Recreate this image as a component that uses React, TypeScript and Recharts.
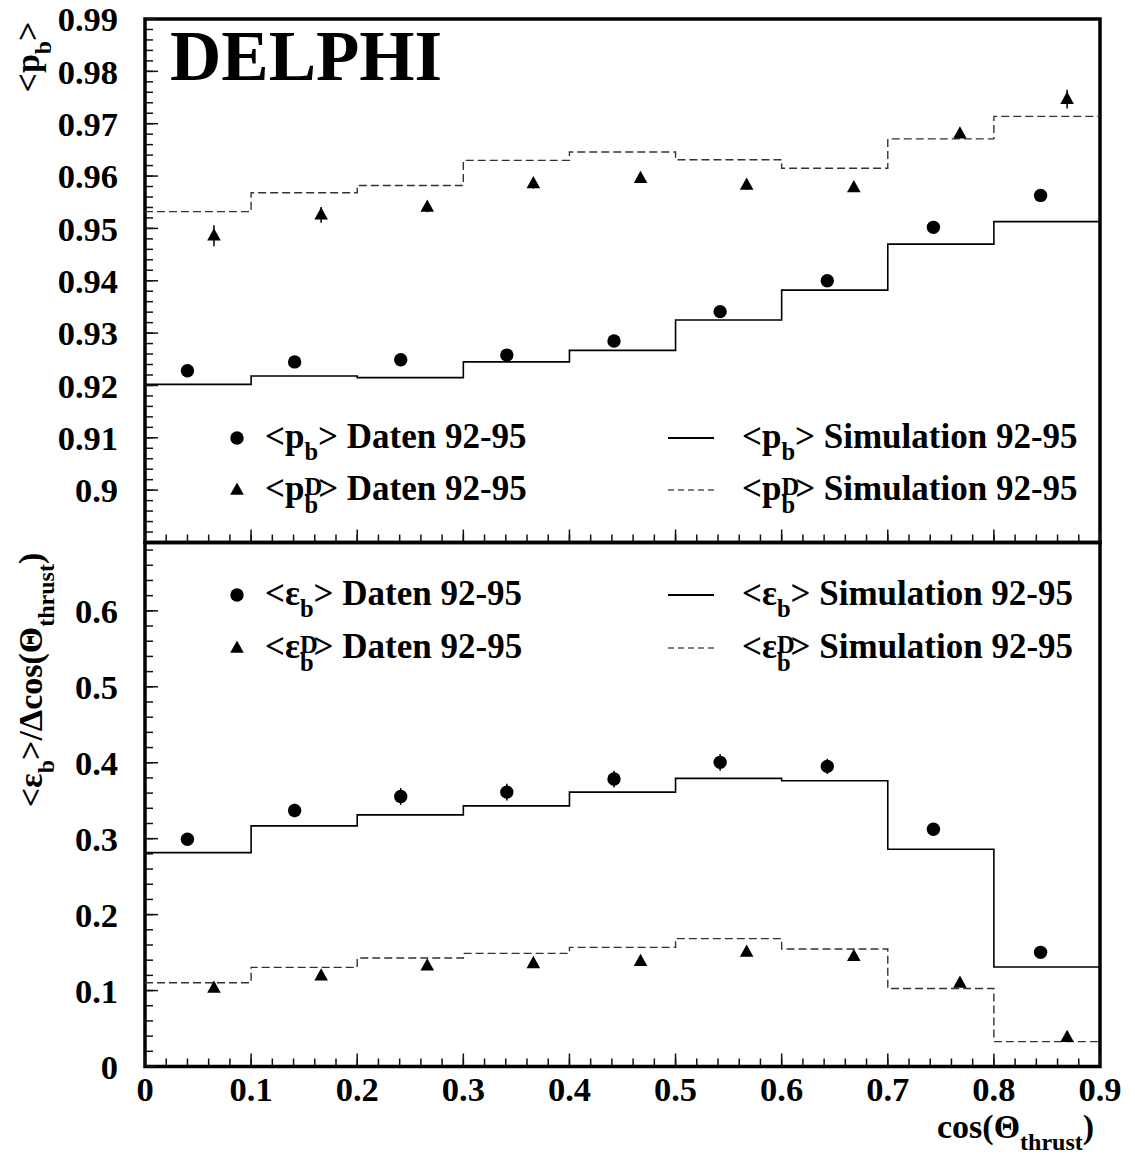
import React from "react";
import {
  ComposedChart,
  Line,
  Scatter,
  XAxis,
  YAxis,
  ReferenceArea,
  ErrorBar,
  Legend,
  Label,
} from "recharts";

const FONT = "'Liberation Serif', 'Times New Roman', Times, serif";

// bin edges of the cos(theta_thrust) histogram and axis tick labels
const binEdges = [0, 0.1, 0.2, 0.3, 0.4, 0.5, 0.6, 0.7, 0.8, 0.9];
const xTicks = [0, 0.1, 0.2, 0.3, 0.4, 0.5, 0.6, 0.7, 0.8, 0.9];
const yTicksTop = [0.9, 0.91, 0.92, 0.93, 0.94, 0.95, 0.96, 0.97, 0.98, 0.99];
const yTicksBottom = [0, 0.1, 0.2, 0.3, 0.4, 0.5, 0.6];

// positions of the data markers inside each bin
const circleX = [0.04, 0.141, 0.241, 0.341, 0.442, 0.542, 0.643, 0.743, 0.844];
const triangleX = [0.065, 0.166, 0.266, 0.366, 0.467, 0.567, 0.668, 0.768, 0.869];

// top panel: <p_b>
const pbSim = [0.9202, 0.9218, 0.9215, 0.9245, 0.9267, 0.9325, 0.9382, 0.947, 0.9513];
const pbDSim = [0.9532, 0.9568, 0.9582, 0.963, 0.9646, 0.9631, 0.9615, 0.9671, 0.9714];
const pbData = [0.9228, 0.9245, 0.9249, 0.9258, 0.9285, 0.9341, 0.94, 0.9502, 0.9563];
const pbDataErr = [0.0006, 0.0006, 0.0006, 0.0006, 0.0006, 0.0006, 0.0006, 0.0006, 0.0007];
const pbDData = [0.9486, 0.9526, 0.9541, 0.9586, 0.9596, 0.9583, 0.9578, 0.9681, 0.9747];
const pbDDataErr = [0.002, 0.0015, 0.001, 0.001, 0.0009, 0.0009, 0.0008, 0.0009, 0.0018];

// bottom panel: <eps_b>/dcos
const ebSim = [0.2816, 0.3168, 0.3313, 0.3432, 0.3613, 0.3794, 0.3763, 0.286, 0.131];
const ebDSim = [0.1103, 0.1305, 0.1429, 0.149, 0.1569, 0.1684, 0.1548, 0.1028, 0.0328];
const ebData = [0.2992, 0.3371, 0.3556, 0.3613, 0.3785, 0.4005, 0.3952, 0.3124, 0.1503];
const ebDataErr = [0.008, 0.009, 0.011, 0.011, 0.011, 0.011, 0.01, 0.008, 0.007];
const ebDData = [0.1033, 0.1196, 0.1328, 0.1358, 0.1385, 0.1509, 0.1451, 0.1099, 0.0386];
const ebDDataErr = [0.004, 0.004, 0.004, 0.004, 0.004, 0.004, 0.004, 0.004, 0.003];

const minor = (lo: number, hi: number, step: number) => {
  const out: number[] = [];
  for (let i = 0; lo + i * step <= hi + 1e-9; i++) out.push(+(lo + i * step).toFixed(4));
  return out;
};
const xMinor = minor(0, 0.9, 0.02);
const yMinorTop = minor(0.89, 0.99, 0.002);
const yMinorBottom = minor(0, 0.69, 0.02);

const hist = (vals: number[]) =>
  binEdges.map((x, i) => ({ x, y: vals[Math.min(i, vals.length - 1)] }));
const points = (xs: number[], ys: number[], es: number[]) =>
  xs.map((x, i) => ({ x, y: ys[i], e: es[i] }));

const Dot = (p: any) => <circle cx={p.cx} cy={p.cy} r={6.7} fill="#000" />;
const Tri = (p: any) => (
  <polygon
    points={`${p.cx},${p.cy - 7.5} ${p.cx - 6.8},${p.cy + 4.8} ${p.cx + 6.8},${p.cy + 4.8}`}
    fill="#000"
  />
);
const NoLabel = () => <g />;

// "<sym_b^sup>rest" as svg text
function QText({ x, y, sym, sup, rest, size = 35, rotate, anchor }: any) {
  const small = size * 0.7;
  return (
    <text
      x={x}
      y={y}
      fontSize={size}
      fontWeight="bold"
      fontFamily={FONT}
      fill="#000"
      textAnchor={anchor || "start"}
      transform={rotate ? `rotate(-90 ${x} ${y})` : undefined}
    >
      {"<" + sym}
      {sup ? (
        <>
          <tspan dy={-size * 0.14} fontSize={small}>{sup}</tspan>
          <tspan dx={-small * 0.72} dy={size * 0.52} fontSize={small}>b</tspan>
          <tspan dy={-size * 0.38}>{">" + rest}</tspan>
        </>
      ) : (
        <>
          <tspan dy={size * 0.34} fontSize={small}>b</tspan>
          <tspan dy={-size * 0.34}>{">" + rest}</tspan>
        </>
      )}
    </text>
  );
}

const topLegend = [
  { marker: "circle", sym: "p", sup: "", label: " Daten 92-95" },
  { marker: "triangle", sym: "p", sup: "D", label: " Daten 92-95" },
];
const topLegendSim = [
  { dash: "", sym: "p", sup: "", label: " Simulation 92-95" },
  { dash: "6 4", sym: "p", sup: "D", label: " Simulation 92-95" },
];
const bottomLegend = [
  { marker: "circle", sym: "ε", sup: "", label: " Daten 92-95" },
  { marker: "triangle", sym: "ε", sup: "D", label: " Daten 92-95" },
];
const bottomLegendSim = [
  { dash: "", sym: "ε", sup: "", label: " Simulation 92-95" },
  { dash: "6 4", sym: "ε", sup: "D", label: " Simulation 92-95" },
];

function LegendBlock({ rows, sims, y0, gap, height, title }: any) {
  return (
    <svg width={1135} height={height} style={{ display: "block", overflow: "visible" }}>
      {title && (
        <text x={170} y={80} fontSize={71} fontWeight="bold" fontFamily={FONT} fill="#000">
          {title}
        </text>
      )}
      {rows.map((r: any, i: number) => {
        const cy = y0 + i * gap;
        return (
          <g key={"d" + i}>
            {r.marker === "circle" ? <Dot cx={237} cy={cy} /> : <Tri cx={237} cy={cy} />}
            <QText x={265} y={cy + 10} sym={r.sym} sup={r.sup} rest={r.label} />
          </g>
        );
      })}
      {sims.map((r: any, i: number) => {
        const cy = y0 + i * gap;
        return (
          <g key={"s" + i}>
            <line
              x1={668}
              x2={714}
              y1={cy}
              y2={cy}
              stroke="#000"
              strokeWidth={r.dash ? 1.2 : 2}
              strokeDasharray={r.dash || undefined}
            />
            <QText x={742} y={cy + 10} sym={r.sym} sup={r.sup} rest={r.label} />
          </g>
        );
      })}
    </svg>
  );
}

const tickStyle = { fill: "#000", fontSize: 34.5, fontWeight: "bold", fontFamily: FONT };
const tickLineStyle = { stroke: "#111", strokeWidth: 1.5 };
const fmt = (v: number) => String(Number(v.toFixed(2)));

// inward pointing major/minor ticks on the left and bottom frame edges
function InnerAxes({ domain, majors, minors }: any) {
  return [
    <XAxis key="xm" xAxisId="maj" type="number" dataKey="x" domain={[0, 0.9]} allowDataOverflow height={1}
      ticks={xTicks} interval={0} mirror tickSize={13} tick={NoLabel} axisLine={false} tickLine={tickLineStyle} />,
    <XAxis key="xn" xAxisId="min" type="number" dataKey="x" domain={[0, 0.9]} allowDataOverflow height={1}
      ticks={xMinor} interval={0} mirror tickSize={7} tick={NoLabel} axisLine={false} tickLine={tickLineStyle} />,
    <YAxis key="ym" yAxisId="maj" type="number" domain={domain} allowDataOverflow width={1}
      ticks={majors} interval={0} mirror tickSize={13} tick={NoLabel} axisLine={false} tickLine={tickLineStyle} />,
    <YAxis key="yn" yAxisId="min" type="number" domain={domain} allowDataOverflow width={1}
      ticks={minors} interval={0} mirror tickSize={7} tick={NoLabel} axisLine={false} tickLine={tickLineStyle} />,
  ];
}

function TopPanel() {
  const domain = [0.89, 0.99];
  return (
    <ComposedChart width={1135} height={545} margin={{ top: 19, right: 35, bottom: 2.5, left: 0 }}>
      <YAxis yAxisId="lab" type="number" domain={domain} allowDataOverflow ticks={yTicksTop} interval={0}
        width={145} tickSize={0} tickMargin={27} tickLine={false} axisLine={false} tick={tickStyle}
        tickFormatter={fmt}>
        <Label content={() => <QText x={39} y={57} sym="p" rest="" size={34} rotate anchor="middle" />} />
      </YAxis>
      {InnerAxes({ domain, majors: [0.89, ...yTicksTop], minors: yMinorTop })}
      <Line xAxisId="maj" yAxisId="maj" data={hist(pbSim)} dataKey="y" type="stepAfter" stroke="#000"
        strokeWidth={1.6} dot={false} activeDot={false} isAnimationActive={false} />
      <Line xAxisId="maj" yAxisId="maj" data={hist(pbDSim)} dataKey="y" type="stepAfter" stroke="#333"
        strokeWidth={1.4} strokeDasharray="8 4" dot={false} activeDot={false} isAnimationActive={false} />
      <Scatter xAxisId="maj" yAxisId="maj" data={points(circleX, pbData, pbDataErr)} dataKey="y" shape={Dot}
        isAnimationActive={false}>
        <ErrorBar dataKey="e" direction="y" width={0} stroke="#000" strokeWidth={1.5} />
      </Scatter>
      <Scatter xAxisId="maj" yAxisId="maj" data={points(triangleX, pbDData, pbDDataErr)} dataKey="y" shape={Tri}
        isAnimationActive={false}>
        <ErrorBar dataKey="e" direction="y" width={0} stroke="#000" strokeWidth={1.5} />
      </Scatter>
      <ReferenceArea xAxisId="maj" yAxisId="maj" x1={0} x2={0.9} y1={0.89} y2={0.99} fill="none"
        fillOpacity={0} stroke="#000" strokeWidth={3.5} ifOverflow="visible" />
      <Legend layout="horizontal" verticalAlign="middle" align="center"
        wrapperStyle={{ left: 0, top: 0, width: 1135, height: 545 }}
        content={() => (
          <LegendBlock rows={topLegend} sims={topLegendSim} y0={438} gap={52} height={545} title="DELPHI" />
        )} />
    </ComposedChart>
  );
}

function BottomPanel() {
  const domain = [0, 0.69];
  return (
    <ComposedChart width={1135} height={645} margin={{ top: 12.5, right: 35, bottom: 68.5, left: 0 }}>
      <XAxis xAxisId="lab" type="number" dataKey="x" domain={[0, 0.9]} allowDataOverflow ticks={xTicks}
        interval={0} height={40} tickSize={0} tickMargin={10} tickLine={false} axisLine={false} tick={tickStyle}
        tickFormatter={fmt}>
        <Label content={() => (
          <text x={937} y={608} fontSize={34} fontWeight="bold" fontFamily={FONT} fill="#000">
            cos(Θ
            <tspan dy={12} fontSize={24}>thrust</tspan>
            <tspan dy={-12}>)</tspan>
          </text>
        )} />
      </XAxis>
      <YAxis yAxisId="lab" type="number" domain={domain} allowDataOverflow ticks={yTicksBottom} interval={0}
        width={145} tickSize={0} tickMargin={27} tickLine={false} axisLine={false} tick={tickStyle}
        tickFormatter={fmt}>
        <Label content={() => (
          <text x={42} y={150} fontSize={34} fontWeight="bold" fontFamily={FONT} fill="#000"
            textAnchor="middle" transform="rotate(-90 42 150)">
            {"<ε"}
            <tspan dy={12} fontSize={24}>b</tspan>
            <tspan dy={-12}>{">/Δcos(Θ"}</tspan>
            <tspan dy={12} fontSize={24}>thrust</tspan>
            <tspan dy={-12}>)</tspan>
          </text>
        )} />
      </YAxis>
      {InnerAxes({ domain, majors: yTicksBottom, minors: yMinorBottom })}
      <Line xAxisId="maj" yAxisId="maj" data={hist(ebSim)} dataKey="y" type="stepAfter" stroke="#000"
        strokeWidth={1.6} dot={false} activeDot={false} isAnimationActive={false} />
      <Line xAxisId="maj" yAxisId="maj" data={hist(ebDSim)} dataKey="y" type="stepAfter" stroke="#333"
        strokeWidth={1.4} strokeDasharray="8 4" dot={false} activeDot={false} isAnimationActive={false} />
      <Scatter xAxisId="maj" yAxisId="maj" data={points(circleX, ebData, ebDataErr)} dataKey="y" shape={Dot}
        isAnimationActive={false}>
        <ErrorBar dataKey="e" direction="y" width={0} stroke="#000" strokeWidth={1.5} />
      </Scatter>
      <Scatter xAxisId="maj" yAxisId="maj" data={points(triangleX, ebDData, ebDDataErr)} dataKey="y" shape={Tri}
        isAnimationActive={false}>
        <ErrorBar dataKey="e" direction="y" width={0} stroke="#000" strokeWidth={1.5} />
      </Scatter>
      <ReferenceArea xAxisId="maj" yAxisId="maj" x1={0} x2={0.9} y1={0} y2={0.69} fill="none"
        fillOpacity={0} stroke="#000" strokeWidth={3.5} ifOverflow="visible" />
      <Legend layout="horizontal" verticalAlign="middle" align="center"
        wrapperStyle={{ left: 0, top: 0, width: 1135, height: 200 }}
        content={() => (
          <LegendBlock rows={bottomLegend} sims={bottomLegendSim} y0={65} gap={53} height={200} />
        )} />
    </ComposedChart>
  );
}

export default function App() {
  return (
    <div style={{ position: "absolute", left: 0, top: 0, width: 1135, height: 1175, background: "#fff" }}>
      <div style={{ position: "absolute", left: 0, top: 0 }}>
        <TopPanel />
      </div>
      <div style={{ position: "absolute", left: 0, top: 530 }}>
        <BottomPanel />
      </div>
    </div>
  );
}
